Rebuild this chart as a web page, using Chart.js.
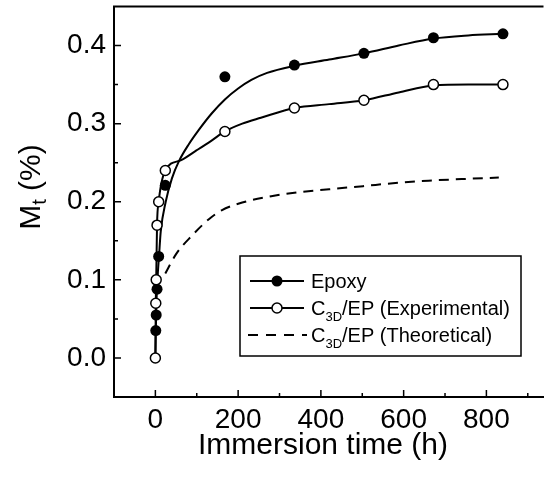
<!DOCTYPE html>
<html><head><meta charset="utf-8">
<script src="https://cdn.jsdelivr.net/npm/chart.js@4.4.1/dist/chart.umd.min.js"></script>
<style>html,body{margin:0;padding:0;background:#fff;} canvas{display:block;}</style>
</head><body>
<canvas id="c" width="550" height="480"></canvas>
<script>
// ---- data ----
const xTickValues = [0, 200, 400, 600, 800];
const xTickLabels = ['0', '200', '400', '600', '800'];
const xMinorTicks = [100, 300, 500, 700, 900];
const yTickValues = [0, 0.1, 0.2, 0.3, 0.4];
const yTickLabels = ['0.0', '0.1', '0.2', '0.3', '0.4'];
const yMinorTicks = [0.05, 0.15, 0.25, 0.35];

// Epoxy measured points
const epoxyX = [1, 2, 4, 8, 24, 168, 336, 504, 672, 840];
const epoxyY = [0.035, 0.055, 0.088, 0.130, 0.221, 0.360, 0.375, 0.390, 0.410, 0.415];
// Epoxy fitted curve
const epoxyFitX = [0, 2, 5, 9, 13, 25, 40, 57, 80, 105, 136, 168, 200, 232, 270, 336, 420, 504, 588, 672, 756, 840];
const epoxyFitY = [0, 0.060, 0.100, 0.132, 0.162, 0.200, 0.230, 0.252, 0.273, 0.292, 0.313, 0.331, 0.345, 0.356, 0.365, 0.374, 0.382, 0.390, 0.400, 0.409, 0.413, 0.415];

// C3D/EP experimental points
const expX = [0, 1, 2, 4, 8, 24, 168, 336, 504, 672, 840];
const expY = [0, 0.07, 0.10, 0.17, 0.20, 0.24, 0.29, 0.32, 0.33, 0.35, 0.35];
// C3D/EP experimental connecting curve
const expCurveX = [0, 1, 2, 4, 8, 24, 61, 100, 135, 168, 210, 255, 336, 420, 504, 588, 672, 756, 840];
const expCurveY = [0, 0.07, 0.10, 0.17, 0.20, 0.24, 0.253, 0.266, 0.278, 0.290, 0.300, 0.3075, 0.320, 0.325, 0.330, 0.340, 0.349, 0.350, 0.350];

// C3D/EP theoretical curve
const theoX = [24, 50, 89, 130, 160, 210, 280, 343, 420, 502, 580, 660, 740, 830];
const theoY = [0.108, 0.133, 0.157, 0.178, 0.189, 0.199, 0.207, 0.212, 0.216, 0.220, 0.224, 0.227, 0.229, 0.231];

const seriesNames = ['Epoxy', 'C_{3D}/EP (Experimental)', 'C_{3D}/EP (Theoretical)'];
const xTitle = 'Immersion time (h)';
const yTitle = 'M_{t} (%)';

// ---- helpers ----
const FONT = "'Liberation Sans', Arial, Helvetica, sans-serif";
const pts = (xs, ys) => xs.map((x, i) => ({x: x, y: ys[i]}));
function parseRich(s) {
  const out = []; const re = /_\{([^}]*)\}/g; let last = 0, m;
  while ((m = re.exec(s))) {
    if (m.index > last) out.push({t: s.slice(last, m.index), sub: false});
    out.push({t: m[1], sub: true}); last = re.lastIndex;
  }
  if (last < s.length) out.push({t: s.slice(last), sub: false});
  return out;
}
function richWidth(ctx, s, size, subSize) {
  let w = 0;
  for (const p of parseRich(s)) { ctx.font = (p.sub ? subSize : size) + 'px ' + FONT; w += ctx.measureText(p.t).width; }
  return w;
}
function drawRich(ctx, s, x, y, size, subSize, subDy) {
  ctx.textAlign = 'left'; ctx.textBaseline = 'alphabetic';
  for (const p of parseRich(s)) {
    ctx.font = (p.sub ? subSize : size) + 'px ' + FONT;
    ctx.fillText(p.t, x, y + (p.sub ? subDy : 0));
    x += ctx.measureText(p.t).width;
  }
}

const decor = {
  id: 'decor',
  afterDraw(chart) {
    const {ctx, chartArea: a, scales: {x, y}} = chart;
    ctx.save();
    ctx.strokeStyle = '#000'; ctx.fillStyle = '#000';
    ctx.lineWidth = 2;
    ctx.beginPath(); ctx.moveTo(a.left - 1, a.top); ctx.lineTo(a.right, a.top); ctx.stroke();
    ctx.lineWidth = 1.5;
    ctx.beginPath();
    xTickValues.forEach(v => { const p = x.getPixelForValue(v); ctx.moveTo(p, a.bottom); ctx.lineTo(p, a.bottom - 7); });
    xMinorTicks.forEach(v => { const p = x.getPixelForValue(v); ctx.moveTo(p, a.bottom); ctx.lineTo(p, a.bottom - 4); });
    yTickValues.forEach(v => { const p = y.getPixelForValue(v); ctx.moveTo(a.left, p); ctx.lineTo(a.left + 7, p); });
    yMinorTicks.forEach(v => { const p = y.getPixelForValue(v); ctx.moveTo(a.left, p); ctx.lineTo(a.left + 4, p); });
    ctx.stroke();

    // legend
    const bx = 240, by = 256, bw = 281, bh = 100;
    ctx.lineWidth = 1.5;
    ctx.fillStyle = '#fff'; ctx.fillRect(bx, by, bw, bh);
    ctx.strokeRect(bx, by, bw, bh);
    ctx.fillStyle = '#000';
    const rows = [281, 308, 335];
    const lx0 = 250, lx1 = 304, mx = 277, tx = 311;
    ctx.lineWidth = 2;
    ctx.beginPath(); ctx.moveTo(lx0, rows[0]); ctx.lineTo(lx1, rows[0]); ctx.stroke();
    ctx.beginPath(); ctx.arc(mx, rows[0], 5.5, 0, Math.PI * 2); ctx.fill();
    ctx.beginPath(); ctx.moveTo(lx0, rows[1]); ctx.lineTo(lx1, rows[1]); ctx.stroke();
    ctx.beginPath(); ctx.arc(mx, rows[1], 5, 0, Math.PI * 2);
    ctx.fillStyle = '#fff'; ctx.fill(); ctx.lineWidth = 1.5; ctx.stroke(); ctx.fillStyle = '#000';
    ctx.lineWidth = 2; ctx.setLineDash([10, 8]);
    ctx.beginPath(); ctx.moveTo(248, rows[2]); ctx.lineTo(307, rows[2]); ctx.stroke();
    ctx.setLineDash([]);
    rows.forEach((ry, i) => drawRich(ctx, seriesNames[i], tx, ry + 7, 20, 13, 6));

    // axis titles
    ctx.fillStyle = '#000';
    ctx.font = '30px ' + FONT; ctx.textAlign = 'center'; ctx.textBaseline = 'alphabetic';
    ctx.fillText(xTitle, 323, 454);
    const yw = richWidth(ctx, yTitle, 30, 20);
    ctx.save();
    ctx.translate(40, 187); ctx.rotate(-Math.PI / 2);
    drawRich(ctx, yTitle, -yw / 2, 0, 30, 20, 6);
    ctx.restore();
    ctx.restore();
  }
};

new Chart(document.getElementById('c'), {
  type: 'scatter',
  data: {
    datasets: [
      { label: 'expPts', data: pts(expX, expY), showLine: false,
        pointRadius: 5, pointBackgroundColor: '#fff', pointBorderColor: '#000', pointBorderWidth: 1.5 },
      { label: 'epoxyPts', data: pts(epoxyX, epoxyY), showLine: false,
        pointRadius: 5.5, pointBackgroundColor: '#000', pointBorderColor: '#000', pointBorderWidth: 0 },
      { label: 'expCurve', data: pts(expCurveX, expCurveY), showLine: true, cubicInterpolationMode: 'monotone',
        borderColor: '#000', borderWidth: 2, pointRadius: 0, fill: false },
      { label: 'epoxyFit', data: pts(epoxyFitX, epoxyFitY), showLine: true, cubicInterpolationMode: 'monotone',
        borderColor: '#000', borderWidth: 2, pointRadius: 0, fill: false },
      { label: 'theo', data: pts(theoX, theoY), showLine: true, cubicInterpolationMode: 'monotone',
        borderColor: '#000', borderWidth: 2, borderDash: [10, 7], pointRadius: 0, fill: false }
    ]
  },
  options: {
    responsive: false, animation: false, devicePixelRatio: 1,
    layout: { padding: { top: 6, right: 0, left: 0, bottom: 0 } },
    plugins: { legend: { display: false }, tooltip: { enabled: false } },
    scales: {
      x: {
        type: 'linear', min: -100, max: 938,
        afterBuildTicks: s => { s.ticks = xTickValues.map(v => ({value: v})); },
        afterFit: s => { s.height = 83; s.paddingLeft = 0; s.paddingRight = 0; },
        ticks: { callback: (v, i) => xTickLabels[i], font: { size: 28, family: FONT }, color: '#000',
                 padding: 6, maxRotation: 0, autoSkip: false },
        grid: { display: false, drawTicks: false },
        border: { display: true, color: '#000', width: 2 }
      },
      y: {
        type: 'linear', min: -0.05, max: 0.45,
        afterBuildTicks: s => { s.ticks = yTickValues.map(v => ({value: v})); },
        afterFit: s => { s.width = 114; s.paddingTop = 0; s.paddingBottom = 0; },
        ticks: { callback: (v, i) => yTickLabels[i], font: { size: 28, family: FONT }, color: '#000',
                 padding: 8, autoSkip: false },
        grid: { display: false, drawTicks: false },
        border: { display: true, color: '#000', width: 2 }
      }
    }
  },
  plugins: [decor]
});
</script>
</body></html>
